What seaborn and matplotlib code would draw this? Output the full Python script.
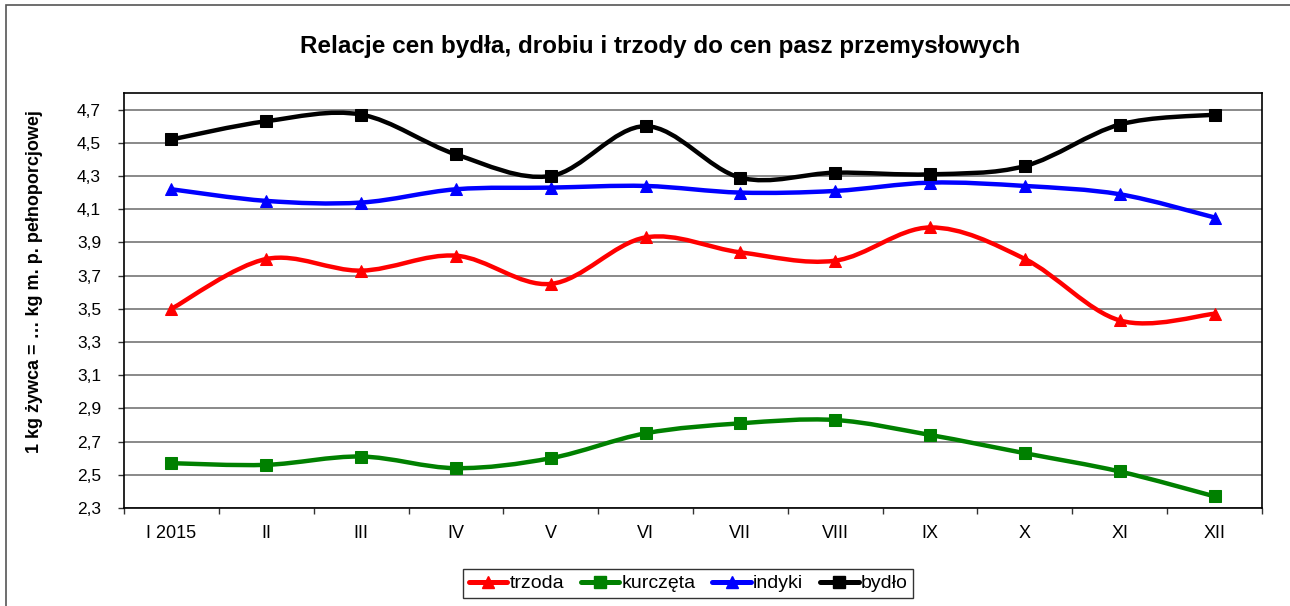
import numpy as np
import matplotlib
matplotlib.use("Agg")
import matplotlib.pyplot as plt
from matplotlib.path import Path
from matplotlib.patches import PathPatch, Rectangle
from matplotlib.lines import Line2D
import seaborn as sns

months = ["I 2015", "II", "III", "IV", "V", "VI", "VII", "VIII", "IX", "X", "XI", "XII"]

trzoda = [3.50, 3.80, 3.73, 3.82, 3.65, 3.93, 3.84, 3.79, 3.99, 3.80, 3.43, 3.47]
kurczeta = [2.57, 2.56, 2.61, 2.54, 2.60, 2.75, 2.81, 2.83, 2.74, 2.63, 2.52, 2.37]
indyki = [4.22, 4.15, 4.14, 4.22, 4.23, 4.24, 4.20, 4.21, 4.26, 4.24, 4.19, 4.05]
bydlo = [4.52, 4.63, 4.67, 4.43, 4.30, 4.60, 4.29, 4.32, 4.31, 4.36, 4.61, 4.67]

series = [
    ("trzoda", trzoda, "#ff0000", "^"),
    ("kurczęta", kurczeta, "#008000", "s"),
    ("indyki", indyki, "#0000ff", "^"),
    ("bydło", bydlo, "#000000", "s"),
]

sns.set_theme(style="white")
plt.rcParams["font.family"] = ["Liberation Sans", "DejaVu Sans"]
plt.rcParams["text.color"] = "black"
plt.rcParams["xtick.color"] = "black"
plt.rcParams["ytick.color"] = "black"


def smooth_path(x, y):
    # excel-like smoothed line: cubic bezier through the points
    pts = np.column_stack([x, y]).astype(float)
    n = len(pts)
    verts = [pts[0]]
    codes = [Path.MOVETO]
    for i in range(n - 1):
        p0 = pts[i - 1] if i > 0 else pts[i]
        p1 = pts[i]
        p2 = pts[i + 1]
        p3 = pts[i + 2] if i + 2 < n else pts[i + 1]
        c1 = p1 + (p2 - p0) / 6.0
        c2 = p2 - (p3 - p1) / 6.0
        verts += [c1, c2, p2]
        codes += [Path.CURVE4] * 3
    return Path(verts, codes)


fig = plt.figure(figsize=(12.9, 6.06), dpi=100)
ax = fig.add_axes([124 / 1290, 1 - 508 / 606, (1262 - 124) / 1290, (508 - 93) / 606])

xpos = np.arange(len(months))
for name, vals, col, mk in series:
    ax.add_patch(PathPatch(smooth_path(xpos, vals), facecolor="none",
                           edgecolor=col, lw=3.2, zorder=3, capstyle="round"))
    sns.lineplot(x=xpos, y=vals, color=col, marker=mk, markersize=8.5,
                 markeredgecolor=col, linestyle="none", ax=ax, zorder=4)

ax.set_xlim(-0.5, len(months) - 0.5)
ax.set_ylim(2.3, 4.8)
yt = np.round(np.arange(2.3, 4.71, 0.2), 1)
ax.set_yticks(yt)
ax.set_yticklabels([f"{v:.1f}".replace(".", ",") for v in yt], fontsize=12.5)
ax.set_xticks(xpos)
ax.set_xticklabels(months, fontsize=13)
ax.set_xticks(np.arange(-0.5, len(months)), minor=True)
ax.tick_params(axis="x", which="major", length=0, pad=12)
ax.tick_params(axis="x", which="minor", length=4, width=1, color="#333333",
               direction="out", bottom=True)
ax.tick_params(axis="y", length=4.5, width=1, direction="out", left=True,
               color="#333333", pad=12)
ax.yaxis.grid(True, color="#808080", lw=1.3)
ax.set_axisbelow(True)
for sp in ax.spines.values():
    sp.set_color("black")
    sp.set_linewidth(1.2)

fig.text(35 / 1290, 1 - 282 / 606, "1 kg żywca = … kg m. p. pełnoporcjowej",
         rotation=90, ha="center", va="center", fontsize=13, fontweight="bold")
fig.text(0.512, 1 - 46 / 606, "Relacje cen bydła, drobiu i trzody do cen pasz przemysłowych",
         ha="center", va="center", fontsize=17.5, fontweight="bold")

handles = [Line2D([], [], color=col, marker=mk, markersize=8, lw=3.6)
           for name, vals, col, mk in series]
leg = fig.legend(handles, [s[0] for s in series], loc="center",
                 bbox_to_anchor=(688 / 1290, 1 - 583.5 / 606), ncol=4,
                 fontsize=14, frameon=True, fancybox=False, handlelength=2.0,
                 handletextpad=0.1, columnspacing=0.85, borderpad=0.3)
leg.get_frame().set_edgecolor("black")
leg.get_frame().set_linewidth(1.0)

fig.patches.append(Rectangle((6 / 1290, -0.05), 1.1, 1 - 5 / 606 + 0.05,
                             transform=fig.transFigure, fill=False,
                             edgecolor="#555555", lw=1.2))

fig.savefig("out.png", dpi=100)
